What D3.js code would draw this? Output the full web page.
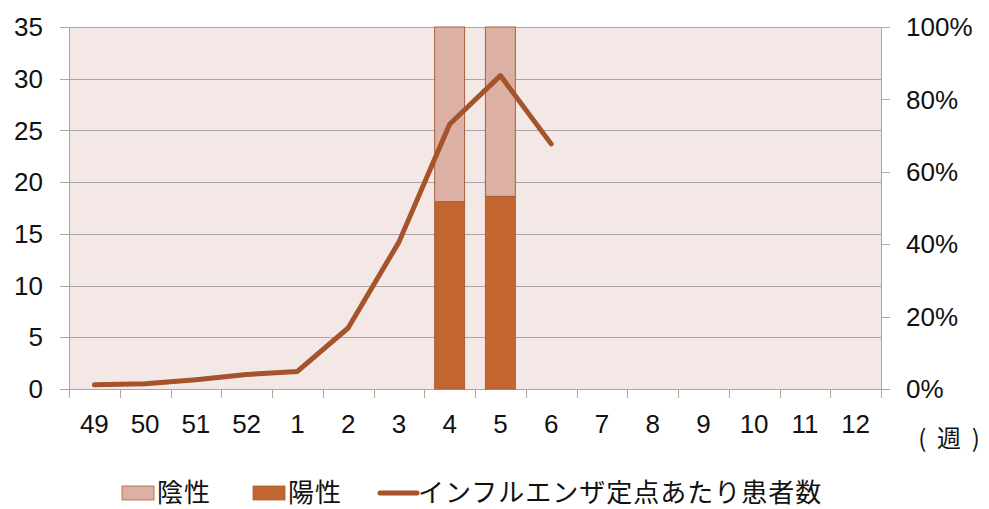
<!DOCTYPE html>
<html>
<head>
<meta charset="utf-8">
<script src="https://cdn.jsdelivr.net/npm/d3@7"></script>
<style>
  html, body { margin: 0; padding: 0; background: #fff; }
  text { font-family: "Liberation Sans", Arial, sans-serif; fill: #111; }
  .jp { font-family: "Noto Sans CJK JP", sans-serif; }
</style>
</head>
<body>
<div id="chart"></div>
<script>
// week labels on the x axis
const weeks = ["49", "50", "51", "52", "1", "2", "3", "4", "5", "6", "7", "8", "9", "10", "11", "12"];
// patients per sentinel site (left axis)
const patients = [0.4, 0.5, 0.9, 1.4, 1.7, 5.9, 14.2, 25.6, 30.3, 23.7, null, null, null, null, null, null];
// share of positive / negative tests (right axis, %)
const positive = [null, null, null, null, null, null, null, 51.7, 53.2, null, null, null, null, null, null, null];
const negative = positive.map(p => p == null ? null : 100 - p);

const leftTicks = [0, 5, 10, 15, 20, 25, 30, 35];
const rightTicks = [0, 20, 40, 60, 80, 100];

const W = 989, H = 509;
const margin = { top: 27, right: 108, bottom: 120, left: 69 };
const width = W - margin.left - margin.right;
const height = H - margin.top - margin.bottom;

const svg = d3.select("#chart").append("svg")
    .attr("width", W)
    .attr("height", H);

const g = svg.append("g")
    .attr("transform", `translate(${margin.left},${margin.top})`);

// scales
const x = d3.scaleBand().domain(weeks).range([0, width]).paddingInner(0.41).paddingOuter(0.205);
const xb = d3.scaleBand().domain(weeks).range([0, width]);
const yL = d3.scaleLinear().domain([0, 35]).range([height, 0]);
const yR = d3.scaleLinear().domain([0, 100]).range([height, 0]);

// plot background
g.append("rect")
    .attr("width", width)
    .attr("height", height)
    .attr("fill", "#f4e8e6");

// horizontal gridlines from left axis
g.append("g")
    .selectAll("line")
    .data(leftTicks)
    .join("line")
    .attr("x1", -9)
    .attr("x2", width)
    .attr("y1", d => Math.round(yL(d)) + 0.5)
    .attr("y2", d => Math.round(yL(d)) + 0.5)
    .attr("stroke", "#aaa6a5")
    .attr("stroke-width", 1);

// left labels
g.append("g")
    .selectAll("text")
    .data(leftTicks)
    .join("text")
    .attr("x", -26)
    .attr("y", d => yL(d))
    .attr("dy", "0.35em")
    .attr("text-anchor", "end")
    .attr("font-size", "26px")
    .text(d => d);

// vertical axis lines
g.append("line")
    .attr("x1", 0.5).attr("x2", 0.5)
    .attr("y1", 0).attr("y2", height + 9)
    .attr("stroke", "#aaa6a5");
g.append("line")
    .attr("x1", width + 0.5).attr("x2", width + 0.5)
    .attr("y1", 0).attr("y2", height + 9)
    .attr("stroke", "#aaa6a5");

// right ticks and labels
g.append("g")
    .selectAll("line")
    .data(rightTicks)
    .join("line")
    .attr("x1", width)
    .attr("x2", width + 9)
    .attr("y1", d => Math.round(yR(d)) + 0.5)
    .attr("y2", d => Math.round(yR(d)) + 0.5)
    .attr("stroke", "#aaa6a5");

g.append("g")
    .selectAll("text")
    .data(rightTicks)
    .join("text")
    .attr("x", width + 25)
    .attr("y", d => yR(d))
    .attr("dy", "0.35em")
    .attr("font-size", "26px")
    .text(d => d + "%");

// x ticks at category boundaries
g.append("g")
    .selectAll("line")
    .data(weeks.slice(1))
    .join("line")
    .attr("x1", d => Math.round(xb(d)) + 0.5)
    .attr("x2", d => Math.round(xb(d)) + 0.5)
    .attr("y1", height)
    .attr("y2", height + 9)
    .attr("stroke", "#aaa6a5");

// x labels
g.append("g")
    .selectAll("text")
    .data(weeks)
    .join("text")
    .attr("x", d => xb(d) + xb.bandwidth() / 2)
    .attr("y", height + 44)
    .attr("text-anchor", "middle")
    .attr("font-size", "26px")
    .text(d => d);

// stacked bars
const barData = weeks.map((w, i) => ({ week: w, pos: positive[i], neg: negative[i] }))
    .filter(d => d.pos != null);

g.append("g")
    .selectAll("rect")
    .data(barData)
    .join("rect")
    .attr("x", d => x(d.week))
    .attr("width", x.bandwidth())
    .attr("y", d => yR(d.pos + d.neg))
    .attr("height", d => yR(d.pos) - yR(d.pos + d.neg))
    .attr("fill", "#dcb0a2")
    .attr("stroke", "#a8603c")
    .attr("stroke-width", 1);

g.append("g")
    .selectAll("rect")
    .data(barData)
    .join("rect")
    .attr("x", d => x(d.week))
    .attr("width", x.bandwidth())
    .attr("y", d => yR(d.pos))
    .attr("height", d => height - yR(d.pos))
    .attr("fill", "#c3652e")
    .attr("stroke", "#a8603c")
    .attr("stroke-width", 1);

// patients line
const lineData = weeks.map((w, i) => ({ week: w, v: patients[i] })).filter(d => d.v != null);
const line = d3.line()
    .x(d => xb(d.week) + xb.bandwidth() / 2)
    .y(d => yL(d.v));

g.append("path")
    .datum(lineData)
    .attr("d", line)
    .attr("fill", "none")
    .attr("stroke", "#a5532a")
    .attr("stroke-width", 5)
    .attr("stroke-linejoin", "round")
    .attr("stroke-linecap", "round");

// unit label
svg.append("text")
    .attr("class", "jp")
    .attr("x", 949)
    .attr("y", 447)
    .attr("text-anchor", "middle")
    .attr("font-size", "24px")
    .attr("xml:space", "preserve")
    .style("white-space", "pre")
    .text("(  週  )");

// legend
const legend = svg.append("g").attr("class", "legend");
const legendItems = [
    { label: "陰性", type: "rect", color: "#dcb0a2", x: 122 },
    { label: "陽性", type: "rect", color: "#c3652e", x: 253 },
    { label: "インフルエンザ定点あたり患者数", type: "line", color: "#a5532a", x: 380 }
];

legendItems.forEach(item => {
    const row = legend.append("g").attr("transform", `translate(${item.x}, 493)`);
    if (item.type === "rect") {
        row.append("rect")
            .attr("x", 0)
            .attr("y", -7)
            .attr("width", 32)
            .attr("height", 14)
            .attr("fill", item.color)
            .attr("stroke", "#a8603c")
            .attr("stroke-width", 0.8);
    } else {
        row.append("line")
            .attr("x1", 0).attr("x2", 37)
            .attr("y1", 0).attr("y2", 0)
            .attr("stroke", item.color)
            .attr("stroke-width", 5)
            .attr("stroke-linecap", "round");
    }
    row.append("text")
        .attr("class", "jp")
        .attr("x", item.type === "rect" ? 35 : 38)
        .attr("y", 0)
        .attr("dy", "0.34em")
        .attr("font-size", "26px")
        .attr("letter-spacing", "1px")
        .text(item.label);
});
</script>
</body>
</html>
